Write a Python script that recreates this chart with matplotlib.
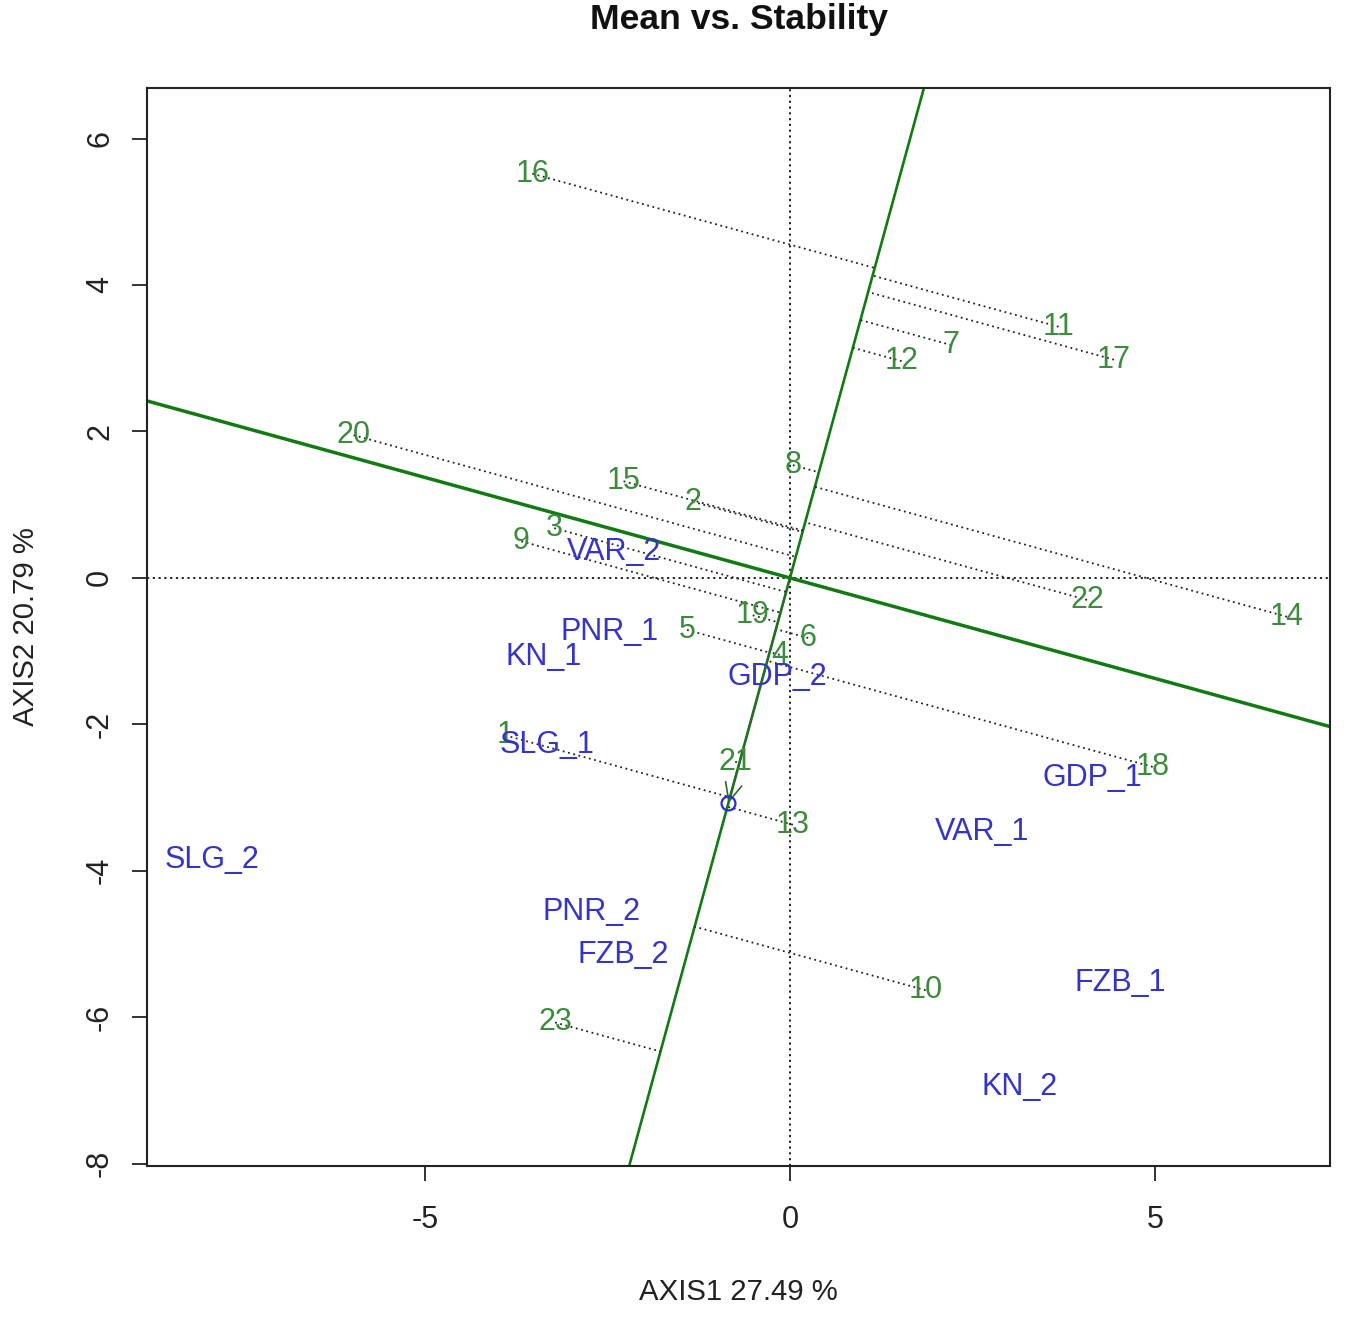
import matplotlib
matplotlib.use("Agg")
import matplotlib.pyplot as plt
from matplotlib import font_manager
import numpy as np

# ---------------- data ----------------
gen_labels = ["1", "2", "3", "4", "5", "6", "7", "8", "9", "10", "11", "12",
              "13", "14", "15", "16", "17", "18", "19", "20", "21", "22", "23"]
gen_x = [-3.90, -1.33, -3.23, -0.14, -1.41, 0.25, 2.21, 0.04, -3.68, 1.86, 3.68, 1.53,
         0.04, 6.81, -2.28, -3.53, 4.44, 4.97, -0.51, -5.98, -0.75, 4.07, -3.22]
gen_y = [-2.15, 1.04, 0.68, -1.05, -0.71, -0.82, 3.18, 1.54, 0.50, -5.63, 3.43, 2.96,
         -3.37, -0.53, 1.32, 5.52, 2.98, -2.58, -0.51, 1.95, -2.51, -0.30, -6.07]

env_labels = ["VAR_2", "PNR_1", "KN_1", "GDP_2", "SLG_1", "GDP_1", "VAR_1", "SLG_2",
              "PNR_2", "FZB_2", "FZB_1", "KN_2"]
env_x = [-2.41, -2.47, -3.38, -0.18, -3.33, 4.15, 2.63, -7.92, -2.72, -2.28, 4.53, 3.14]
env_y = [0.36, -0.74, -1.08, -1.35, -2.28, -2.73, -3.47, -3.85, -4.56, -5.15, -5.53, -6.95]

aec_x, aec_y = -0.845, -3.08   # average environment coordinate

title = "Mean vs. Stability"
xlab = "AXIS1 27.49 %"
ylab = "AXIS2 20.79 %"
xticks = [-5, 0, 5]
yticks = [-8, -6, -4, -2, 0, 2, 4, 6]
xlim = (-8.81, 7.40)
ylim = (-8.03, 6.69)

# ---------------- fonts ----------------
names = {f.name for f in font_manager.fontManager.ttflist}
if "Liberation Sans Narrow" in names:
    fam, k = "Liberation Sans Narrow", 1.12
else:
    fam, k = "Liberation Sans", 0.88
plt.rcParams["font.family"] = [fam, "DejaVu Sans"]

green_txt = "#3d8b3d"
blue_txt = "#3434c8"
green_line = "#127a12"

W, H = 1350, 1321
fig = plt.figure(figsize=(W / 100, H / 100), dpi=100)
L, R, T, B = 147, 1330, 88, 1166
ax = fig.add_axes([L / W, 1 - B / H, (R - L) / W, (B - T) / H])
ax.set_xlim(*xlim)
ax.set_ylim(*ylim)

# zero reference lines
ax.axhline(0, color="#111111", lw=1.3, ls=(0, (1.2, 2.0)), zorder=1)
ax.axvline(0, color="#111111", lw=1.3, ls=(0, (1.2, 2.0)), zorder=1)

# average environment axis and its perpendicular
ax.axline((0, 0), slope=aec_y / aec_x, color=green_line, lw=1.9, zorder=2)
ax.axline((0, 0), slope=-aec_x / aec_y, color=green_line, lw=2.5, zorder=2)

# projections of genotypes onto the AEA
u = np.array([aec_x, aec_y]) / np.hypot(aec_x, aec_y)
for gx, gy in zip(gen_x, gen_y):
    p = (gx * u[0] + gy * u[1]) * u
    ax.plot([gx, p[0]], [gy, p[1]], color="#222222", lw=1.3,
            ls=(0, (1.0, 2.0)), zorder=3)

# average environment marker and arrow
ax.annotate("", xy=(aec_x, aec_y), xytext=(0, 0),
            arrowprops=dict(arrowstyle="->,head_length=1.1,head_width=0.5",
                            color="#2a6a2a", lw=1.2, shrinkA=0, shrinkB=0),
            fontsize=12, zorder=4)
ax.plot([aec_x], [aec_y], marker="o", ms=10, mfc="none", mec="#2b2bd0",
        mew=1.6, zorder=5)

fs = 25 * k
for lab, x, y in zip(gen_labels, gen_x, gen_y):
    ax.text(x, y, lab, color=green_txt, fontsize=fs, ha="center", va="center",
            zorder=6)
for lab, x, y in zip(env_labels, env_x, env_y):
    ax.text(x, y, lab, color=blue_txt, fontsize=fs, ha="center", va="center",
            zorder=6)

# axes styling
ax.set_xticks(xticks)
ax.set_yticks(yticks)
ax.set_xticklabels([str(v) for v in xticks])
ax.set_yticklabels([str(v) for v in yticks], rotation=90, va="center")
ax.tick_params(axis="both", direction="out", length=11, width=1.3,
               labelsize=25 * k, colors="#222222")
ax.tick_params(axis="x", pad=17)
ax.tick_params(axis="y", pad=12)
for s in ax.spines.values():
    s.set_linewidth(1.5)
    s.set_color("#222222")

ax.set_xlabel(xlab, fontsize=24 * k, color="#222222", va="center")
ax.xaxis.set_label_coords(0.5, (B - 1292) / (B - T))
ax.set_ylabel(ylab, fontsize=24 * k, color="#222222", va="center")
ax.yaxis.set_label_coords((26 - L) / (R - L), 0.5)
ax.set_title(title, fontsize=29 * k, fontweight="bold", color="#111111",
             y=(B - 19) / (B - T), va="center", pad=0)

fig.savefig("out.png", dpi=100, facecolor="white")
